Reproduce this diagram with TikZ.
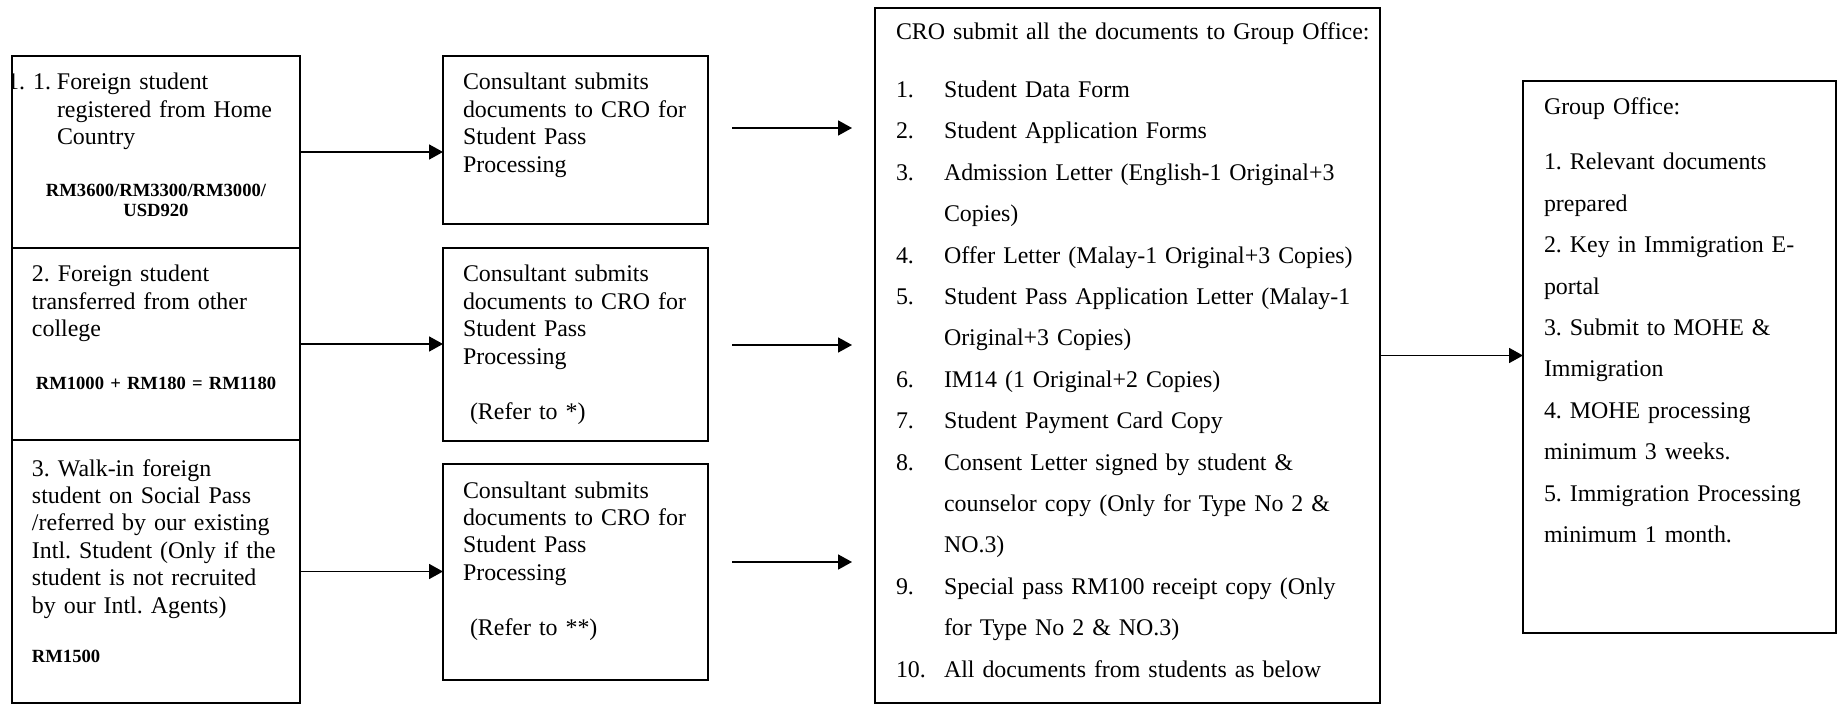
\documentclass[tikz,border=0pt]{standalone}
\usepackage{fontspec}
\setmainfont{Liberation Serif}
\usetikzlibrary{arrows.meta}
\frenchspacing
\newcommand\txtMain{\fontsize{11.95pt}{13.7pt}\selectfont}
\newcommand\txtList{\fontsize{11.95pt}{20.7pt}\selectfont}
\newcommand\txtBold{\fontsize{9.3pt}{10pt}\selectfont\bfseries}
\newcommand\numA[1]{\makebox[24pt][l]{#1}}
\begin{document}
\begin{tikzpicture}[x=0.5pt,y=-0.5pt,
  box/.style={draw, line width=0.9pt, anchor=north west, inner sep=0pt, outer sep=0pt},
  txt/.style={anchor=base west, inner sep=0pt, outer sep=0pt, text width=240pt, align=left, font=\txtMain},
  lst/.style={anchor=base west, inner sep=0pt, outer sep=0pt, text width=245pt, align=left, font=\txtList},
  bld/.style={anchor=base, inner sep=0pt, outer sep=0pt, text width=140pt, align=center, font=\txtBold},
  arr/.style={line width=0.9pt, -{Triangle[length=7pt,width=7.5pt]}}]
\useasboundingbox (0,0) rectangle (1845,705);
% boxes
\node[box, minimum width=144pt, minimum height=96pt] (l1) at (12,56) {};
\node[box, minimum width=144pt, minimum height=96pt] (l2) at (12,248) {};
\node[box, minimum width=144pt, minimum height=131.5pt] (l3) at (12,440) {};
\node[box, minimum width=132.5pt, minimum height=84pt] (m1) at (443,56) {};
\node[box, minimum width=132.5pt, minimum height=96.5pt] (m2) at (443,248) {};
\node[box, minimum width=132.5pt, minimum height=108pt] (m3) at (443,464) {};
\node[box, minimum width=252.5pt, minimum height=347.5pt] (big) at (875,8) {};
\node[box, minimum width=156.5pt, minimum height=276pt] (grp) at (1523,81) {};
% left texts
\begin{scope}
\clip (l1.north west) rectangle (l1.south east);
\node[txt] (t1) at (57,90) {\llap{1.\hspace{4pt}1.\hspace{3pt}}Foreign student\\registered from Home\\Country};
\end{scope}
\node[bld] (b1) at (156,197) {RM3600/RM3300/RM3000/\\USD920};
\node[txt] (t2) at (32,282) {2. Foreign student\\transferred from other\\college};
\node[bld] (b2) at (156,389) {RM1000 + RM180 = RM1180};
\node[txt] (t3) at (32,476) {3. Walk-in foreign\\student on Social Pass\\/referred by our existing\\Intl. Student (Only if the\\student is not recruited\\by our Intl. Agents)};
\node[bld, anchor=base west, align=left] (b3) at (32,662) {RM1500};
% middle texts
\node[txt] (c1) at (463,90) {Consultant submits\\documents to CRO for\\Student Pass\\Processing};
\node[txt] (c2) at (463,282) {Consultant submits\\documents to CRO for\\Student Pass\\Processing};
\node[txt] (r2) at (470,419) {(Refer to *)};
\node[txt] (c3) at (463,498) {Consultant submits\\documents to CRO for\\Student Pass\\Processing};
\node[txt] (r3) at (470,635) {(Refer to **)};
% big box texts
\node[txt] (bt) at (896,40) {CRO submit all the documents to Group Office:};
\node[lst] (bl) at (896,97.5) {\numA{1.}Student Data Form\\
\numA{2.}Student Application Forms\\
\numA{3.}Admission Letter (English-1 Original+3\\
\numA{}Copies)\\
\numA{4.}Offer Letter (Malay-1 Original+3 Copies)\\
\numA{5.}Student Pass Application Letter (Malay-1\\
\numA{}Original+3 Copies)\\
\numA{6.}IM14 (1 Original+2 Copies)\\
\numA{7.}Student Payment Card Copy\\
\numA{8.}Consent Letter signed by student \&\\
\numA{}counselor copy (Only for Type No 2 \&\\
\numA{}NO.3)\\
\numA{9.}Special pass RM100 receipt copy (Only\\
\numA{}for Type No 2 \& NO.3)\\
\numA{10.}All documents from students as below};
% group office texts
\node[txt] (gt) at (1544,115) {Group Office:};
\node[lst, text width=150pt] (gl) at (1544,170) {1. Relevant documents\\
prepared\\
2. Key in Immigration E-\\
portal\\
3. Submit to MOHE \&\\
Immigration\\
4. MOHE processing\\
minimum 3 weeks.\\
5. Immigration Processing\\
minimum 1 month.};
% connectors
\draw[arr] (l1.east) -- (l1.east -| m1.west);
\draw[arr] (l2.east) -- (l2.east -| m2.west);
\draw[arr] (l3.east) -- (l3.east -| m3.west);
\coordinate (s1) at (732,128); \coordinate (e1) at (852,128);
\coordinate (s2) at (732,345); \coordinate (e2) at (852,345);
\coordinate (s3) at (732,562); \coordinate (e3) at (852,562);
\draw[arr] (s1) -- (e1);
\draw[arr] (s2) -- (e2);
\draw[arr] (s3) -- (e3);
\draw[arr] (big.east) -- (big.east -| grp.west);
\end{tikzpicture}
\end{document}
